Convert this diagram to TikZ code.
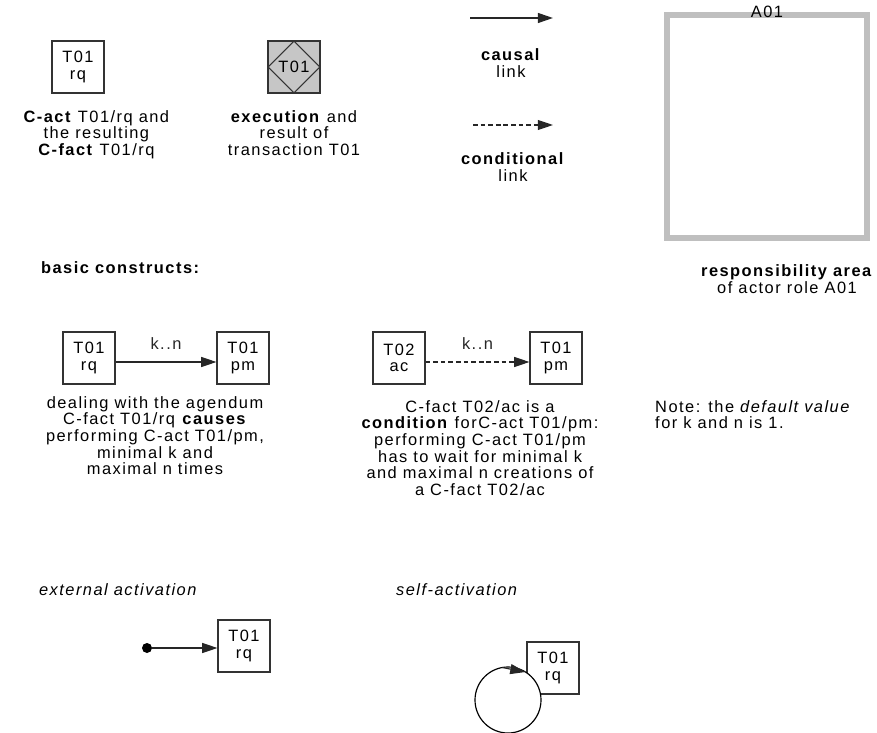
\documentclass[tikz,border=0pt]{standalone}
\usepackage{fontspec}
\setmainfont[LetterSpace=9]{Liberation Sans}
\usetikzlibrary{shapes.geometric, arrows.meta, positioning, calc}

\begin{document}
\begin{tikzpicture}[x=0.3mm, y=0.3mm, node distance=5mm,
            font=\fontsize{14}{14.2}\selectfont,
            act/.style={rectangle, draw=black!80, line width=0.9pt, minimum width=15.6mm, minimum height=15.6mm, inner sep=0pt, align=center},
            caption/.style={align=center, inner sep=0pt},
            causal/.style={-{Triangle[length=13pt, width=8.5pt]}, line width=1pt, black!85},
            conditional/.style={causal, dash pattern=on 4pt off 2.5pt}]

    \useasboundingbox (0,0) rectangle (877,-733);

    % legend: C-act and transaction
    \node [act] (rqbox) at (78,-67) {T01\\rq};
    \node [caption, below=5mm of rqbox, xshift=5.5mm] (rqcap) {\textbf{C-act} T01/rq and\\the resulting\\\textbf{C-fact} T01/rq};
    \node [act, fill=gray!45] (execbox) at (294,-67) {};
    \node [diamond, draw=black!80, line width=0.9pt, aspect=1, minimum size=15.6mm, inner sep=0pt] (execdia) at (execbox) {T01};
    \node [caption, below=5mm of execbox] (execcap) {\textbf{execution} and\\result of\\transaction T01};

    % legend: links
    \coordinate (causalA) at (470,-18);
    \coordinate (causalB) at (553,-18);
    \draw [causal, line width=1.4pt] (causalA) -- (causalB);
    \node [caption] (causalcap) at (511,-63) {\textbf{causal}\\link};
    \coordinate (condA) at (473,-125);
    \coordinate (condB) at (553,-125);
    \draw [conditional] (condA) -- (condB);
    \node [caption] (condcap) at (513,-167) {\textbf{conditional}\\link};

    % legend: actor role
    \node [rectangle, draw=gray!50, line width=1.8mm, minimum width=60mm, minimum height=66.9mm] (area) at (767,-126.5) {};
    \node (arealabel) at (area.north) {A01};
    \node [caption, below=7mm of area, xshift=6mm] (areacap) {\textbf{responsibility area}\\of actor role A01};

    \node [anchor=west] (basic) at (37,-268) {\textbf{basic constructs:}};

    % causal link
    \node [act] (rqC) at (89,-358) {T01\\rq};
    \node [act] (pmD) at (243,-358) {T01\\pm};
    \draw [causal] ([yshift=-1.2mm]rqC.east) -- node[above, yshift=2.5mm] {k..n} ([yshift=-1.2mm]pmD.west);
    \node [caption, anchor=north] (causecap) at (155,-396) {dealing with the agendum\\C-fact T01/rq \textbf{causes}\\performing C-act T01/pm,\\minimal k and\\maximal n times};

    % conditional link
    \node [act] (acE) at (399,-358) {T02\\ac};
    \node [act] (pmF) at (556,-358) {T01\\pm};
    \draw [conditional] ([yshift=-1.2mm]acE.east) -- node[above, yshift=2.5mm] {k..n} ([yshift=-1.2mm]pmF.west);
    \node [caption, anchor=north] (condition) at (480,-400) {C-fact T02/ac is a\\\textbf{condition} forC-act T01/pm:\\performing C-act T01/pm\\has to wait for minimal k\\and maximal n creations of\\a C-fact T02/ac};

    \node [anchor=north west, align=left, inner sep=0pt] (note) at (655,-400) {Note: the \textit{default value}\\for k and n is 1.};

    % external activation
    \node [anchor=west] (extlabel) at (35,-590) {\textit{external activation}};
    \node [act] (rqG) at (244,-646) {T01\\rq};
    \node [circle, fill=black, inner sep=0pt, minimum size=3mm] (start) at (147,-648) {};
    \draw [causal] (start) -- (rqG.west |- start);

    % self-activation
    \node [anchor=west] (selflabel) at (392,-590) {\textit{self-activation}};
    \node [act] (rqH) at (553,-668) {T01\\rq};
    \coordinate (loop) at (508,-700);
    \draw [line width=1pt, fill=white] (loop) circle [radius=33];
    \draw [causal] ($(loop)+(100:33)$) -- ($(loop)+(58:33)$);

\end{tikzpicture}
\end{document}
